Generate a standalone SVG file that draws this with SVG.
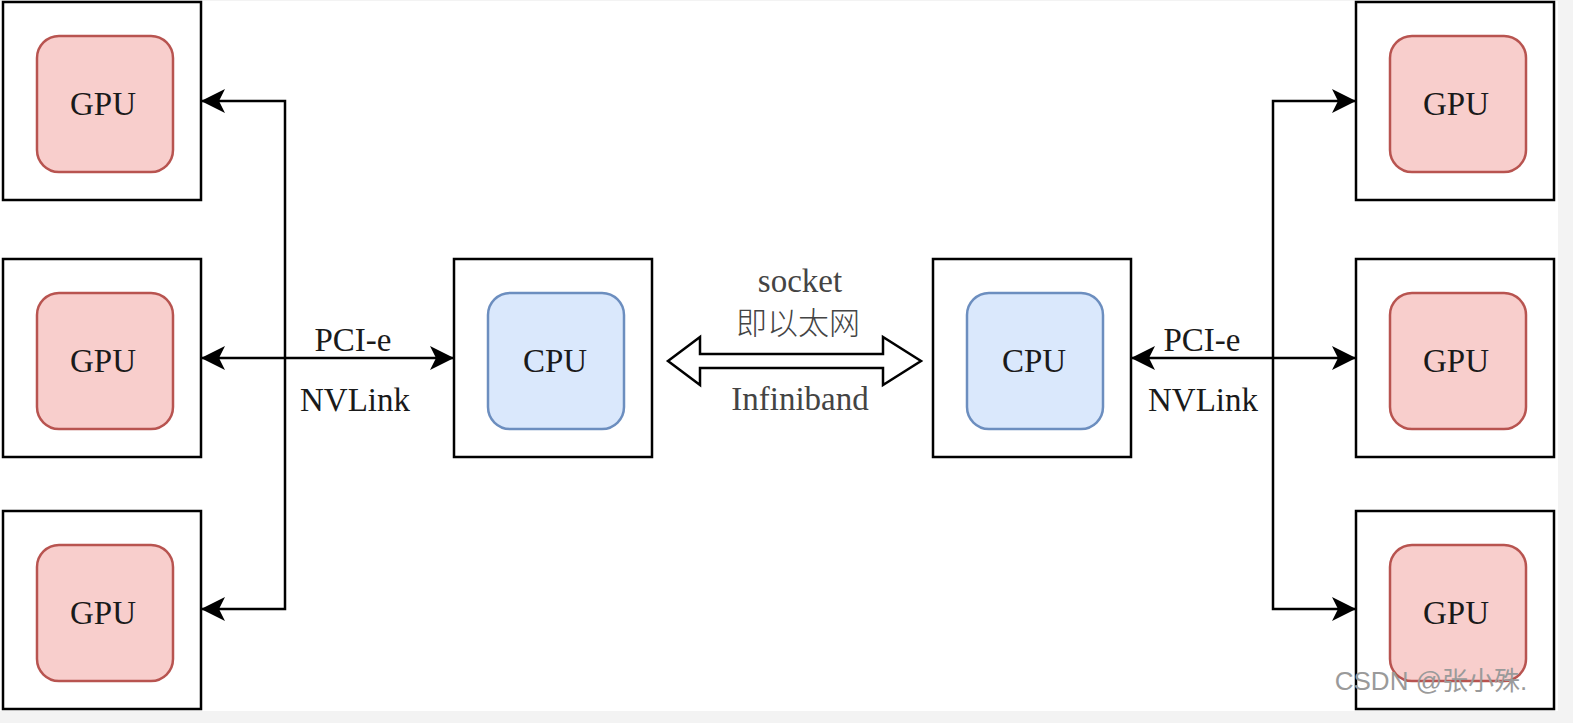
<svg xmlns="http://www.w3.org/2000/svg" width="1573" height="723" viewBox="0 0 1573 723">
<defs>
<style>
.outer{fill:#fff;stroke:#000;stroke-width:2.5}
.gpu{fill:#f8cecc;stroke:#b85450;stroke-width:2.5}
.cpu{fill:#dae8fc;stroke:#6c8ebf;stroke-width:2.5}
.lbl{font-family:"Liberation Serif","Times New Roman",serif;font-size:33px;fill:#1a1a1a;text-anchor:middle}
.gray{fill:#444}
.wire{fill:none;stroke:#000;stroke-width:2.5}
</style>
<marker id="ah" viewBox="0 0 24 26" refX="23" refY="13" markerWidth="24" markerHeight="26" markerUnits="userSpaceOnUse" orient="auto-start-reverse">
<path d="M0,1 L24,13 L0,25 L6,13 Z" fill="#000"/>
</marker>
</defs>
<rect width="1573" height="723" fill="#f3f3f3"/>
<rect x="0" y="1" width="1558" height="710" fill="#fff"/>

<g id="gpu-l1"><rect class="outer" x="3" y="2" width="198" height="198"/><rect class="gpu" x="37" y="36" width="136" height="136" rx="22"/><text class="lbl" x="103" y="115">GPU</text></g>
<g id="gpu-l2"><rect class="outer" x="3" y="259" width="198" height="198"/><rect class="gpu" x="37" y="293" width="136" height="136" rx="22"/><text class="lbl" x="103" y="372">GPU</text></g>
<g id="gpu-l3"><rect class="outer" x="3" y="511" width="198" height="198"/><rect class="gpu" x="37" y="545" width="136" height="136" rx="22"/><text class="lbl" x="103" y="624">GPU</text></g>

<g id="cpu-l"><rect class="outer" x="454" y="259" width="198" height="198"/><rect class="cpu" x="488" y="293" width="136" height="136" rx="22"/><text class="lbl" x="555" y="372">CPU</text></g>
<g id="cpu-r"><rect class="outer" x="933" y="259" width="198" height="198"/><rect class="cpu" x="967" y="293" width="136" height="136" rx="22"/><text class="lbl" x="1034" y="372">CPU</text></g>

<g id="gpu-r1"><rect class="outer" x="1356" y="2" width="198" height="198"/><rect class="gpu" x="1390" y="36" width="136" height="136" rx="22"/><text class="lbl" x="1456" y="115">GPU</text></g>
<g id="gpu-r2"><rect class="outer" x="1356" y="259" width="198" height="198"/><rect class="gpu" x="1390" y="293" width="136" height="136" rx="22"/><text class="lbl" x="1456" y="372">GPU</text></g>
<g id="gpu-r3"><rect class="outer" x="1356" y="511" width="198" height="198"/><rect class="gpu" x="1390" y="545" width="136" height="136" rx="22"/><text class="lbl" x="1456" y="624">GPU</text></g>

<g id="connectors">
<path class="wire" d="M202,101 L285,101 L285,609 L202,609" marker-start="url(#ah)" marker-end="url(#ah)"/>
<path class="wire" d="M202,358 L453,358" marker-start="url(#ah)" marker-end="url(#ah)"/>
<path class="wire" d="M1355,101 L1273,101 L1273,609 L1355,609" marker-start="url(#ah)" marker-end="url(#ah)"/>
<path class="wire" d="M1132,358 L1355,358" marker-start="url(#ah)" marker-end="url(#ah)"/>
<path d="M668,361 L700,337 L700,354 L883,354 L883,337 L921,361 L883,385 L883,368 L700,368 L700,385 Z" fill="#fff" stroke="#000" stroke-width="2.5" stroke-linejoin="miter"/>
</g>

<g id="labels">
<text class="lbl" x="353" y="351">PCI-e</text>
<text class="lbl" x="355" y="411">NVLink</text>
<text class="lbl" x="1202" y="351">PCI-e</text>
<text class="lbl" x="1203" y="411">NVLink</text>
<text class="lbl gray" x="800" y="292">socket</text>
<text class="lbl gray" x="798" y="334" style="font-family:'Noto Sans CJK SC','Liberation Serif',serif;font-size:31px;font-weight:300">即以太网</text>
<text class="lbl gray" x="800" y="410">Infiniband</text>
</g>
<text x="1431" y="690" text-anchor="middle" font-family="'Liberation Sans','Noto Sans CJK SC',sans-serif" font-size="26" fill="#9a9a9a">CSDN @张小殊.</text>
</svg>
